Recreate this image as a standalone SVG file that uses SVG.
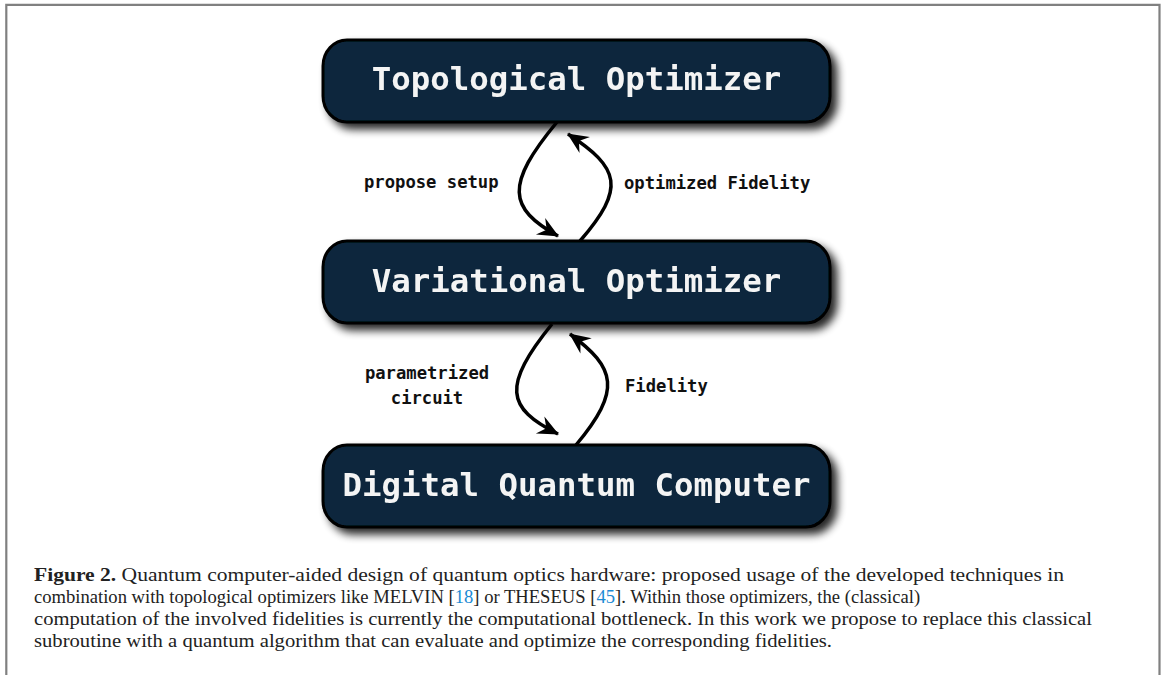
<svg xmlns="http://www.w3.org/2000/svg" width="1163" height="675" viewBox="0 0 1163 675">
  <defs>
    <filter id="shadow" x="-10%" y="-30%" width="125%" height="170%">
      <feGaussianBlur in="SourceAlpha" stdDeviation="4"/>
      <feOffset dx="6" dy="6" result="b"/>
      <feComponentTransfer><feFuncA type="linear" slope="0.85"/></feComponentTransfer>
      <feMerge><feMergeNode/><feMergeNode in="SourceGraphic"/></feMerge>
    </filter>
    <marker id="arrow" viewBox="-22 -11 24 22" markerWidth="24" markerHeight="22" refX="0" refY="0" orient="auto" markerUnits="userSpaceOnUse">
      <path d="M1,0 L-20,-9.5 L-13,0 L-20,9.5 Z" fill="#000"/>
    </marker>
    <style>
      .box { fill: #0b283e; stroke: #000; stroke-width: 3; }
      .title { font-family: "DejaVu Sans Mono", monospace; font-weight: bold; font-size: 32.4px; fill: #f4f4f4; text-anchor: middle; }
      .lbl { font-family: "DejaVu Sans Mono", monospace; font-weight: bold; font-size: 17.2px; fill: #111; }
      .conn { fill: none; stroke: #000; stroke-width: 3.5; marker-end: url(#arrow); }
      .cap { font-family: "Liberation Serif", serif; font-size: 19.5px; fill: #222; }
      .ref { fill: #1a8ad4; }
    </style>
  </defs>
  <rect width="1163" height="675" fill="#fff"/>
  <path d="M6.3,675 L6.3,4.8 L1159.5,4.8 L1159.5,675" fill="none" stroke="#808080" stroke-width="2.2"/>

  <g id="node-topological" filter="url(#shadow)">
    <rect class="box" x="323" y="40" width="507" height="82" rx="24" ry="26"/>
    <text class="title" x="576.5" y="90">Topological Optimizer</text>
  </g>
  <g id="node-variational" filter="url(#shadow)">
    <rect class="box" x="323" y="241" width="507" height="82" rx="24" ry="26"/>
    <text class="title" x="576.5" y="292">Variational Optimizer</text>
  </g>
  <g id="node-digital" filter="url(#shadow)">
    <rect class="box" x="323" y="445" width="507" height="82" rx="24" ry="26"/>
    <text class="title" x="576.5" y="496">Digital Quantum Computer</text>
  </g>

  <g id="connectors">
    <path class="conn" d="M557,122 C505,185 508,208 558,236"/>
    <path class="conn" d="M580,241 C626,188 620,168 568,134"/>
    <path class="conn" d="M552,324 C502,386 506,408 558,434"/>
    <path class="conn" d="M576,445 C622,390 616,368 570,334"/>
    <text class="lbl" x="364" y="188">propose setup</text>
    <text class="lbl" x="624" y="189">optimized Fidelity</text>
    <text class="lbl" x="427" y="379" text-anchor="middle">parametrized</text>
    <text class="lbl" x="427" y="404" text-anchor="middle">circuit</text>
    <text class="lbl" x="625" y="392">Fidelity</text>
  </g>

  <g id="caption">
    <text class="cap" x="34" y="581" textLength="1030" lengthAdjust="spacingAndGlyphs"><tspan font-weight="bold">Figure 2.</tspan>  Quantum computer-aided design of quantum optics hardware: proposed usage of the developed techniques in</text>
    <text class="cap" x="34" y="603" style="font-size:18.6px">combination with topological optimizers like MELVIN [<tspan class="ref">18</tspan>] or THESEUS [<tspan class="ref">45</tspan>]. Within those optimizers, the (classical)</text>
    <text class="cap" x="34" y="625" textLength="1058" lengthAdjust="spacingAndGlyphs">computation of the involved fidelities is currently the computational bottleneck. In this work we propose to replace this classical</text>
    <text class="cap" x="34" y="647" textLength="798" lengthAdjust="spacingAndGlyphs">subroutine with a quantum algorithm that can evaluate and optimize the corresponding fidelities.</text>
  </g>
</svg>
